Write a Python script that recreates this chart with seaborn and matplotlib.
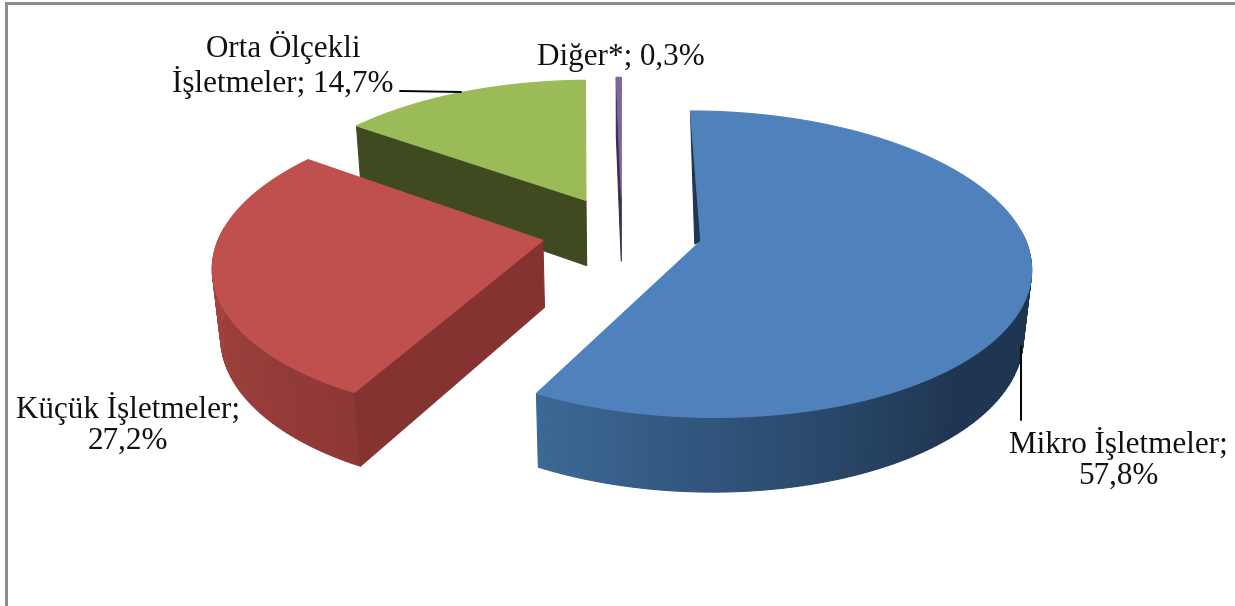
import numpy as np
import matplotlib
matplotlib.use('agg')
import matplotlib.pyplot as plt
import seaborn as sns

names = ["Mikro İşletmeler;", "Küçük İşletmeler;", "Orta Ölçekli\nİşletmeler;", "Diğer*;"]
values = [57.8, 27.2, 14.7, 0.3]
top_colors = ["#4F81BD", "#C0504D", "#9BBB59", "#8064A2"]
wall_colors = [["#1F3652", "#1F3652", "#1F3652", "#3C6896"],
               ["#8E3836", "#9A3E3B", "#A8443F", "#A8443F"],
               ["#3F4A21", "#3F4A21", "#3F4A21", "#3F4A21"],
               ["#3A2F4E", "#3A2F4E", "#3A2F4E", "#3A2F4E"]]
cut_colors = ["#1F3652", "#853331", "#3F4A21", "#3A2F4E"]

sns.set_theme(style='white')
plt.rcParams['font.family'] = ['Liberation Serif', 'DejaVu Serif']

# perspective of the pie, all in pixels of the picture
cx, cy = 622.0, 232.0
f, k, h = 322.0, 147.0, 68.0
p, q = 0.15, 0.02
explode = 0.25


def project(x, y, z=0.0):
    w = 1 + p * y + q * z
    return cx + f * x / w, cy - k * y / w + h * z / w


def ring(start, stop, off, z=0.0):
    a = np.radians(np.linspace(start, stop, max(int(stop - start) * 2, 2) + 1))
    return project(off[0] + np.sin(a), off[1] + np.cos(a), z)


def poly(ax, sx, sy, color, order):
    ax.fill(sx, sy, facecolor=color, edgecolor=color, linewidth=0.8, zorder=order)


def draw_slice(ax, start, stop, top, wall, cut, order, front_cut=True):
    mid = np.radians((start + stop) / 2)
    off = (explode * np.sin(mid), explode * np.cos(mid))
    ax0, ay0 = project(off[0], off[1])
    bx0, by0 = project(off[0], off[1], 1.0)

    # outer wall as small strips so the shade can change along the arc
    edges = np.arange(start, stop + 0.5, 1.0)
    edges[-1] = stop
    shades = sns.blend_palette(wall, max(len(edges) - 1, 2))
    for i in range(len(edges) - 1):
        if not 85 < edges[i] < 275:  # back of the pie is hidden
            continue
        t = ring(edges[i], edges[i + 1], off)
        b = ring(edges[i], edges[i + 1], off, 1.0)
        poly(ax, np.r_[t[0], b[0][::-1]], np.r_[t[1], b[1][::-1]], shades[i], order)

    sx, sy = project(off[0] + np.sin(np.radians(start)), off[1] + np.cos(np.radians(start)))
    if front_cut:
        ex, ey = project(off[0] + np.sin(np.radians(start)), off[1] + np.cos(np.radians(start)), 1.0)
        poly(ax, [ax0, sx, ex, bx0], [ay0, sy, ey, by0], cut, order + 0.1)
    else:
        # thin dark sliver along the edge at twelve o'clock
        poly(ax, [sx, ax0, ax0 - 6, sx], [sy, ay0, ay0 + 3, sy], cut, order + 0.1)

    t = ring(start, stop, off)
    poly(ax, np.r_[ax0, t[0]], np.r_[ay0, t[1]], top, order + 0.2)


fig = plt.figure(figsize=(12.35, 6.06), dpi=100)
ax = fig.add_axes([0, 0, 1, 1])
ax.set_xlim(0, 1235)
ax.set_ylim(606, 0)
ax.axis('off')

angles = np.r_[0, np.cumsum(values)] / np.sum(values) * 360
draw_order = [2, 3, 1, 0]
for n, i in enumerate(draw_order):
    draw_slice(ax, angles[i], angles[i + 1], top_colors[i], wall_colors[i], cut_colors[i],
               n + 1, front_cut=i != 0)

# frame of the chart area, only top and left are in the crop
ax.plot([6, 6, 1235], [606, 3, 3], color="#8C8C8C", lw=2.2, zorder=0, solid_joinstyle='miter')

# leader lines
ax.plot([400, 461], [91, 92], color="black", lw=1.4, zorder=6)
ax.plot([1020.5, 1020.5], [346, 420], color="black", lw=1.4, zorder=6)

label_pos = [(1118, 459), (128, 424), (283, 65), (621, 57)]
for name, v, (x, y) in zip(names, values, label_pos):
    pct = f"{v:.1f}".replace('.', ',') + "%"
    sep = "\n" if name.startswith(("Mikro", "Küçük")) else " "
    ax.text(x, y, f"{name}{sep}{pct}", ha='center', va='center', fontsize=22.4,
            color="#111111", linespacing=1.08, zorder=7)

fig.savefig('out.png', dpi=100, facecolor='white')
